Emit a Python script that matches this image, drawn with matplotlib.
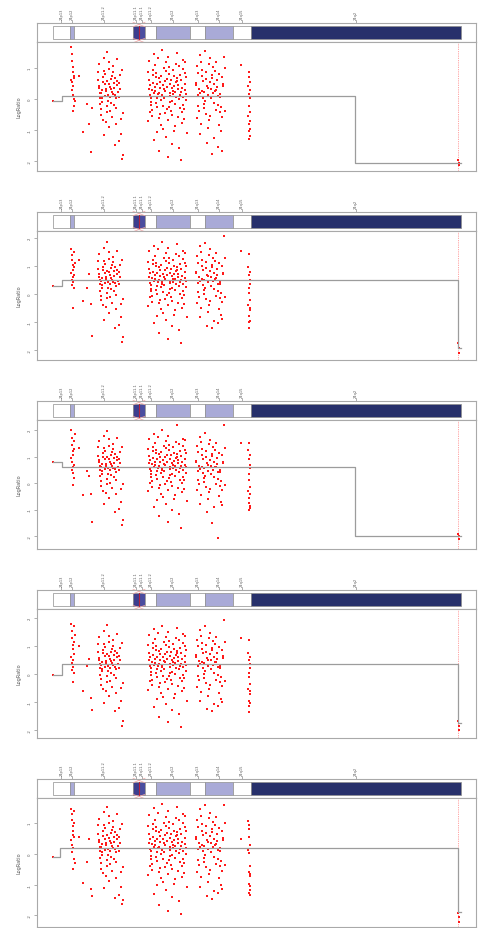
import matplotlib
matplotlib.use("Agg")
import matplotlib.pyplot as plt
from matplotlib.patches import Rectangle

# ---------------------------------------------------------------- chromosome
band_edges = [0.0, 1.7, 2.1, 8.0, 8.55, 9.2, 10.3, 13.7, 15.2, 18.0, 19.8, 40.8]
band_names = ["24p13", "24p12", "24p11.2", "24p11.1", "24q11.1", "24q11.2",
              "24q12", "24q13", "24q14", "24q15", "24q2"]
band_colors = ["white", "#a9aad7", "white", "#3c3e8e", "#4a4d9f", "white",
               "#a9aad7", "white", "#a9aad7", "white", "#27306b"]
centromere = 8.55

# ---------------------------------------------------------------- probe positions (Mb)
x_first = [0.0]
x_a = [1.79, 1.83, 1.86, 1.88, 1.91, 1.93, 1.95, 1.97, 1.99, 2.01, 2.03, 2.05,
       2.07, 2.09, 2.12, 2.15]
x_gap1 = [2.6, 3.0, 3.4, 3.6, 3.75, 3.85]
x_b = [4.60, 4.73, 4.50, 4.66, 4.79, 4.57, 4.70, 4.53, 4.76, 4.63,
       5.09, 4.90, 4.99, 4.83, 5.03, 5.12, 4.93, 5.06, 4.96, 4.86,
       5.18, 5.35, 5.44, 5.28, 5.15, 5.38, 5.22, 5.41, 5.31, 5.25,
       5.64, 5.48, 5.74, 5.58, 5.71, 5.51, 5.77, 5.61, 5.55, 5.68,
       6.09, 5.93, 5.83, 6.03, 5.87, 5.96, 6.06, 5.80, 6.00, 5.90,
       6.20, 6.39, 6.33, 6.16, 6.26, 6.42, 6.13, 6.29, 6.23, 6.36,
       6.80, 6.65, 6.95, 6.50, 6.90, 6.60, 6.75, 6.85, 6.55, 6.70,
       6.98, 6.62]
x_c = [9.60, 9.73, 9.50, 9.66, 9.79, 9.57, 9.70, 9.53, 9.76, 9.63,
       10.09, 9.90, 9.99, 9.83, 10.03, 10.12, 9.93, 10.06, 9.96, 9.86,
       10.18, 10.35, 10.44, 10.28, 10.15, 10.38, 10.22, 10.41, 10.31, 10.25,
       10.64, 10.48, 10.74, 10.58, 10.71, 10.51, 10.77, 10.61, 10.55, 10.68,
       11.09, 10.93, 10.83, 11.03, 10.87, 10.96, 11.06, 10.80, 11.00, 10.90,
       11.20, 11.39, 11.33, 11.16, 11.26, 11.42, 11.13, 11.29, 11.23, 11.36,
       11.65, 11.55, 11.74, 11.45, 11.71, 11.52, 11.61, 11.68, 11.48, 11.58,
       11.78, 11.94, 11.85, 12.04, 11.88, 11.98, 11.91, 12.07, 12.01, 11.81,
       12.33, 12.13, 12.23, 12.30, 12.39, 12.20, 12.36, 12.17, 12.10, 12.26,
       12.56, 12.72, 12.53, 12.50, 12.59, 12.69, 12.46, 12.63, 12.43, 12.66,
       12.85, 12.95, 12.75, 13.04, 12.78, 12.98, 12.88, 13.01, 12.82, 12.91,
       13.34, 13.08, 13.31, 13.21, 13.28, 13.15, 13.37, 13.18, 13.24, 13.11]
x_d = [14.30, 14.50, 14.38, 14.62, 14.42, 14.54, 14.46, 14.66, 14.58, 14.34,
       14.98, 14.74, 14.86, 14.94, 15.06, 14.82, 15.02, 14.78, 14.70, 14.90,
       15.26, 15.46, 15.22, 15.18, 15.30, 15.42, 15.14, 15.34, 15.10, 15.38,
       15.62, 15.74, 15.50, 15.86, 15.54, 15.78, 15.66, 15.82, 15.58, 15.70,
       16.22, 15.90, 16.18, 16.06, 16.14, 15.98, 16.26, 16.02, 16.10, 15.94,
       16.42, 16.58, 16.30, 16.50, 16.66, 16.38, 16.54, 16.34, 16.62, 16.46,
       17.02, 16.78, 16.90, 16.70, 16.94, 17.06, 16.82, 16.98, 16.86, 16.74,
       17.15, 17.20]
x_gap2 = [18.8]
x_e = [19.52, 19.54, 19.55, 19.57, 19.58, 19.6, 19.61, 19.62, 19.63, 19.65,
       19.66, 19.67, 19.69, 19.7, 19.72, 19.74]
x_end = [40.5, 40.56, 40.62]
probe_groups = [x_first, x_a, x_gap1, x_b, x_c, x_d, x_gap2, x_e, x_end]

# ---------------------------------------------------------------- log ratios, sample 1
ratio_1 = [
    [-0.06],
    [1.68, 0.62, 1.45, 0.3, 1.22, 0.55, 1.03, -0.39, 0.88, 0.41, 0.12, 0.74,
     0.0, -0.21, 0.68, -0.07],
    [0.74, -1.06, -0.16, -0.81, -1.71, -0.29],
    [0.42, -0.15, 0.88, 0.21, -0.52, 1.12, 0.05, 0.63, -0.31, 0.37,
     1.34, -0.08, 0.55, 0.19, -0.66, 0.92, 0.28, -1.15, 0.71, 0.02,
     0.47, -0.42, 1.52, 0.33, 0.11, -0.23, 0.81, 0.58, -0.74, 0.26,
     0.97, -0.05, 0.39, 1.21, -0.37, 0.14, 0.66, -0.91, 0.49, 0.08,
     -0.19, 0.75, 0.31, 1.05, -0.58, 0.17, 0.53, -0.12, 0.86, 0.24,
     -1.47, 0.44, 0.03, 0.69, -0.28, 1.28, 0.36, -0.81, 0.12, 0.59,
     -1.12, 0.78, -0.45, 0.22, -1.93, 0.51, -0.63, 0.95, -1.36, 0.34,
     -1.79, 0.07],
    [0.33, -0.41, 0.87, 0.12, -0.18, 1.24, 0.46, -0.72, 0.05, 0.61,
     -1.32, 0.29, 0.78, -0.09, 0.52, 1.45, -0.35, 0.18, 0.94, -0.56,
     0.38, 0.02, -1.05, 0.71, 0.25, -0.27, 1.09, 0.47, -0.13, 0.83,
     -0.62, 0.15, 0.56, -1.68, 0.36, 1.31, -0.04, 0.68, 0.21, -0.49,
     0.99, 0.09, -0.83, 0.44, 1.58, -0.21, 0.31, 0.74, -0.96, 0.13,
     0.57, -0.33, 1.18, 0.26, -1.21, 0.65, 0.04, 0.89, -0.45, 0.39,
     -0.11, 1.02, 0.19, -0.69, 0.48, -1.88, 0.81, 0.11, 1.36, -0.24,
     0.62, -0.52, 0.35, 0.93, -0.07, 0.27, -1.44, 0.73, 0.16, -0.38,
     1.14, 0.42, -0.86, 0.07, 0.58, -0.15, 1.49, 0.24, -1.02, 0.54,
     0.01, 0.79, -0.59, 0.32, 1.07, -0.29, 0.45, -1.57, 0.67, 0.14,
     -0.77, 0.96, 0.22, -0.19, 0.61, 1.26, -0.42, 0.08, -1.96, 0.37,
     0.71, -0.64, 0.17, 1.19, -0.03, 0.49, -1.11, 0.84, 0.28, -0.31],
    [0.52, -0.22, 1.07, 0.31, -0.61, 0.84, 0.12, 1.42, -0.38, 0.46,
     0.05, -1.12, 0.73, 0.27, -0.15, 1.21, 0.58, -0.79, 0.19, 0.95,
     -0.47, 0.36, 1.55, -0.06, 0.64, -1.41, 0.23, 0.88, -0.29, 0.41,
     1.13, -0.54, 0.14, 0.77, -0.93, 0.33, 1.31, 0.02, -0.68, 0.55,
     0.26, -1.78, 0.91, -0.12, 0.47, 1.02, -0.35, 0.18, -1.24, 0.69,
     0.38, -0.83, 1.18, 0.09, -0.43, 0.61, -1.55, 0.29, 0.82, -0.18,
     0.48, -1.03, 0.71, 0.15, -0.58, 1.37, -0.25, 0.43, -1.66, 0.07,
     0.99, -0.39],
    [1.1],
    [0.42, -0.55, 0.87, -1.03, 0.16, -0.81, -0.23, 0.71, -1.29, 0.03, -0.42,
     -0.95, 0.55, -1.19, 0.28, -0.71],
    [-1.98, -2.06, -2.14],
]

# ---------------------------------------------------------------- log ratios, sample 2
ratio_2 = [
    [0.29],
    [1.61, 0.75, 1.39, 0.32, 1.21, 0.5, 1.04, -0.5, 0.86, 0.61, 0.43, 1.5,
     0.2, 0.95, 0.68, 1.12],
    [1.21, -0.25, 0.2, 0.71, -0.36, -1.5],
    [0.71, 0.12, 1.18, 0.49, -0.23, 1.42, 0.35, 0.88, -0.06, 0.62,
     1.63, 0.21, 0.84, 0.46, -0.41, 1.19, 0.57, -0.92, 0.98, 0.31,
     0.76, -0.15, 1.87, 0.59, 0.38, 0.04, 1.08, 0.83, -0.48, 0.52,
     1.26, 0.22, 0.66, 1.5, -0.11, 0.41, 0.93, -0.67, 0.77, 0.35,
     0.09, 1.02, 0.58, 1.33, -0.32, 0.44, 0.81, 0.16, 1.14, 0.51,
     -1.21, 0.72, 0.29, 0.96, -0.02, 1.55, 0.63, -0.55, 0.39, 0.86,
     -0.84, 1.05, -0.18, 0.48, -1.73, 0.78, -0.37, 1.22, -1.1, 0.61,
     -1.55, 0.34],
    [0.61, -0.12, 1.15, 0.4, 0.09, 1.52, 0.74, -0.43, 0.33, 0.89,
     -1.04, 0.57, 1.06, 0.19, 0.8, 1.72, -0.07, 0.46, 1.22, -0.28,
     0.66, 0.3, -0.77, 0.99, 0.53, 0.01, 1.37, 0.75, 0.15, 1.11,
     -0.34, 0.43, 0.84, -1.4, 0.64, 1.59, 0.24, 0.96, 0.49, -0.21,
     1.27, 0.37, -0.55, 0.72, 1.86, 0.07, 0.59, 1.02, -0.68, 0.41,
     0.85, -0.05, 1.46, 0.54, -0.93, 0.93, 0.32, 1.17, -0.17, 0.67,
     0.17, 1.3, 0.47, -0.41, 0.76, -1.6, 1.09, 0.39, 1.64, 0.04,
     0.9, -0.24, 0.63, 1.21, 0.21, 0.55, -1.16, 1.01, 0.44, -0.1,
     1.42, 0.7, -0.58, 0.35, 0.86, 0.13, 1.77, 0.52, -0.74, 0.82,
     0.29, 1.07, -0.31, 0.6, 1.35, -0.01, 0.73, -1.29, 0.95, 0.42,
     -0.49, 1.24, 0.5, 0.09, 0.89, 1.54, -0.14, 0.36, -1.75, 0.65,
     0.99, -0.36, 0.45, 1.47, 0.25, 0.77, -0.83, 1.12, 0.56, -0.03],
    [0.8, 0.06, 1.35, 0.59, -0.33, 1.12, 0.4, 1.7, -0.1, 0.74,
     0.33, -0.84, 1.01, 0.55, 0.13, 1.49, 0.86, -0.51, 0.47, 1.23,
     -0.19, 0.64, 1.83, 0.22, 0.92, -1.13, 0.51, 1.16, -0.01, 0.69,
     1.41, -0.26, 0.42, 1.05, -0.65, 0.61, 1.59, 0.3, -0.4, 0.83,
     0.54, -1.21, 1.19, 0.16, 0.75, 1.3, -0.07, 0.46, -0.96, 0.97,
     0.66, -0.55, 1.46, 0.37, -0.15, 0.89, -1.02, 0.57, 1.1, 0.1,
     0.76, -0.75, 0.99, 0.43, -0.3, 2.07, 0.03, 0.71, -0.88, 0.35,
     1.27, -0.11],
    [1.54],
    [0.95, -0.38, 1.43, -0.8, 0.21, -1.0, 0.05, 0.66, -1.21, 0.37, -0.2,
     -0.58, 0.8, -0.95, 0.49, -0.5],
    [-1.75, -1.92, -2.1],
]

# ---------------------------------------------------------------- log ratios, sample 3
ratio_3 = [
    [0.79],
    [2.0, 0.95, 1.7, 0.5, 1.45, 0.8, 1.2, -0.08, 1.05, 0.62, 0.38, 1.6,
     0.2, 1.3, 0.7, 1.85],
    [1.32, -0.45, 0.45, 0.26, -0.42, -1.47],
    [0.88, 0.25, 1.36, 0.63, -0.11, 1.58, 0.49, 1.02, 0.07, 0.78,
     1.79, 0.34, 0.99, 0.6, -0.29, 1.34, 0.71, -0.79, 1.13, 0.45,
     0.9, -0.02, 1.96, 0.73, 0.52, 0.17, 1.22, 0.97, -0.36, 0.66,
     1.41, 0.36, 0.8, 1.65, 0.02, 0.55, 1.07, -0.55, 0.91, 0.48,
     0.23, 1.17, 0.72, 1.47, -0.19, 0.58, 0.95, 0.3, 1.29, 0.65,
     -1.08, 0.86, 0.43, 1.1, 0.11, 1.7, 0.77, -0.42, 0.53, 1.0,
     -0.7, 1.19, -0.05, 0.62, -1.58, 0.92, -0.24, 1.36, -0.97, 0.75,
     -1.4, 0.48],
    [0.75, 0.02, 1.29, 0.54, 0.23, 1.66, 0.88, -0.29, 0.47, 1.03,
     -0.9, 0.71, 1.2, 0.33, 0.94, 1.86, 0.07, 0.6, 1.36, -0.14,
     0.8, 0.44, -0.63, 1.13, 0.67, 0.15, 1.51, 0.89, 0.29, 1.25,
     -0.2, 0.57, 0.98, -1.26, 0.78, 1.73, 0.38, 1.1, 0.63, -0.07,
     1.41, 0.51, -0.41, 0.86, 2.0, 0.21, 0.73, 1.16, -0.54, 0.55,
     0.99, 0.09, 1.6, 0.68, -0.79, 1.07, 0.46, 1.31, -0.03, 0.81,
     0.31, 1.44, 0.61, -0.27, 0.9, -1.46, 1.23, 0.53, 1.78, 0.18,
     1.04, -0.1, 0.77, 1.35, 0.35, 0.69, -1.02, 1.15, 0.58, 0.04,
     1.56, 0.84, -0.44, 0.49, 1.0, 0.27, 2.19, 0.66, -0.6, 0.96,
     0.43, 1.21, -0.17, 0.74, 1.49, 0.13, 0.87, -1.15, 1.09, 0.56,
     -0.35, 1.38, 0.64, 0.23, 1.03, 1.68, 0.0, 0.5, -1.7, 0.79,
     1.13, -0.22, 0.59, 1.61, 0.39, 0.91, -0.69, 1.26, 0.7, 0.11],
    [0.85, 0.11, 1.4, 0.64, -0.28, 1.17, 0.45, 1.75, -0.05, 0.79,
     0.38, -0.79, 1.06, 0.6, 0.18, 1.54, 0.91, -0.46, 0.52, 1.28,
     -0.14, 0.69, 1.88, 0.27, 0.97, -1.08, 0.56, 1.21, 0.04, 0.74,
     1.46, -0.21, 0.47, 1.1, -0.6, 0.66, 1.64, 0.35, -0.35, 0.88,
     0.59, -1.5, 1.24, 0.21, 0.8, 1.35, -0.02, 0.51, -0.91, 1.02,
     0.71, -0.5, 1.51, 0.42, -0.1, 0.94, -2.07, 0.62, 1.15, 0.15,
     0.81, -0.7, 1.04, 0.48, -0.25, 2.19, 0.08, 0.76, -0.83, 0.4,
     1.32, -0.06],
    [1.5],
    [1.25, -0.3, 1.5, -0.75, 0.35, -1.0, 0.1, 0.9, -0.55, 0.55, -0.15,
     -0.85, 1.05, -0.95, 0.7, -0.4],
    [-1.92, -2.0, -2.1],
]

# ---------------------------------------------------------------- log ratios, sample 4
ratio_4 = [
    [-0.04],
    [1.8, 0.6, 1.55, 0.15, 1.3, 0.4, 1.05, -0.3, 0.9, 0.5, 0.25, 1.7,
     0.05, 1.15, 0.7, 1.4],
    [1.0, -0.6, 0.3, 0.55, -0.85, -1.3],
    [0.58, -0.03, 1.07, 0.36, -0.38, 1.31, 0.22, 0.79, -0.17, 0.49,
     1.52, 0.1, 0.73, 0.33, -0.54, 1.06, 0.44, -1.03, 0.85, 0.18,
     0.63, -0.28, 1.74, 0.46, 0.25, -0.09, 0.95, 0.7, -0.61, 0.39,
     1.13, 0.09, 0.53, 1.37, -0.24, 0.28, 0.8, -0.78, 0.64, 0.22,
     -0.04, 0.89, 0.45, 1.2, -0.45, 0.31, 0.68, 0.03, 1.01, 0.38,
     -1.34, 0.59, 0.16, 0.83, -0.15, 1.42, 0.5, -0.68, 0.26, 0.73,
     -0.97, 0.92, -0.31, 0.35, -1.86, 0.65, -0.5, 1.09, -1.23, 0.48,
     -1.68, 0.21],
    [0.48, -0.25, 1.02, 0.27, -0.04, 1.39, 0.61, -0.56, 0.2, 0.76,
     -1.17, 0.44, 0.93, 0.06, 0.67, 1.59, -0.2, 0.33, 1.09, -0.41,
     0.53, 0.17, -0.9, 0.86, 0.4, -0.12, 1.24, 0.62, 0.02, 0.98,
     -0.47, 0.3, 0.71, -1.53, 0.51, 1.46, 0.11, 0.83, 0.36, -0.34,
     1.14, 0.24, -0.68, 0.59, 1.73, -0.06, 0.46, 0.89, -0.81, 0.28,
     0.72, -0.18, 1.33, 0.41, -1.06, 0.8, 0.19, 1.04, -0.3, 0.54,
     0.04, 1.17, 0.34, -0.54, 0.63, -1.73, 0.96, 0.26, 1.51, -0.09,
     0.77, -0.37, 0.5, 1.08, 0.08, 0.42, -1.29, 0.88, 0.31, -0.23,
     1.29, 0.57, -0.71, 0.22, 0.73, 0.0, 1.64, 0.39, -0.87, 0.69,
     0.16, 0.94, -0.44, 0.47, 1.22, -0.14, 0.6, -1.42, 0.82, 0.29,
     -0.62, 1.11, 0.37, -0.04, 0.76, 1.41, -0.27, 0.23, -1.88, 0.52,
     0.86, -0.49, 0.32, 1.34, 0.12, 0.64, -0.96, 0.99, 0.43, -0.16],
    [0.67, -0.07, 1.22, 0.46, -0.46, 0.99, 0.27, 1.57, -0.23, 0.61,
     0.2, -0.97, 0.88, 0.42, 0.0, 1.36, 0.73, -0.64, 0.34, 1.1,
     -0.32, 0.51, 1.7, 0.09, 0.79, -1.26, 0.38, 1.03, -0.14, 0.56,
     1.28, -0.39, 0.29, 0.92, -0.78, 0.48, 1.46, 0.17, -0.53, 0.7,
     0.41, -1.34, 1.06, 0.03, 0.62, 1.17, -0.2, 0.33, -1.09, 0.84,
     0.53, -0.68, 1.33, 0.24, -0.28, 0.76, -1.15, 0.44, 0.97, -0.03,
     0.63, -0.88, 0.86, 0.3, -0.43, 1.94, -0.1, 0.58, -1.01, 0.22,
     1.14, -0.24],
    [1.3],
    [0.75, -0.55, 1.2, -0.95, 0.05, -1.15, -0.1, 0.5, -1.35, 0.2, -0.35,
     -0.7, 0.6, -1.05, 0.35, -0.6],
    [-1.7, -1.85, -2.0],
]

# ---------------------------------------------------------------- log ratios, sample 5
ratio_5 = [
    [-0.1],
    [1.47, 0.45, 1.3, 0.05, 1.1, 0.3, 0.9, -0.49, 0.75, 0.2, 0.6, 1.4,
     -0.15, 1.0, 0.55, -0.3],
    [0.55, -0.94, -0.26, 0.49, -1.14, -1.37],
    [0.44, -0.14, 0.93, 0.23, -0.5, 1.15, 0.08, 0.66, -0.29, 0.39,
     1.37, -0.05, 0.58, 0.21, -0.63, 0.95, 0.31, -1.12, 0.74, 0.05,
     0.5, -0.39, 1.53, 0.36, 0.14, -0.2, 0.84, 0.61, -0.71, 0.29,
     1.0, -0.02, 0.42, 1.24, -0.34, 0.17, 0.69, -0.88, 0.52, 0.11,
     -0.16, 0.78, 0.34, 1.08, -0.55, 0.2, 0.56, -0.09, 0.89, 0.27,
     -1.44, 0.47, 0.06, 0.72, -0.25, 1.31, 0.39, -0.78, 0.15, 0.62,
     -1.09, 0.81, -0.42, 0.25, -1.63, 0.54, -0.6, 0.98, -1.33, 0.37,
     -1.5, 0.1],
    [0.36, -0.38, 0.9, 0.15, -0.15, 1.27, 0.49, -0.69, 0.08, 0.64,
     -1.29, 0.32, 0.81, -0.06, 0.55, 1.48, -0.32, 0.21, 0.97, -0.53,
     0.41, 0.05, -1.02, 0.74, 0.28, -0.24, 1.12, 0.5, -0.1, 0.86,
     -0.59, 0.18, 0.59, -1.65, 0.39, 1.34, -0.01, 0.71, 0.24, -0.46,
     1.02, 0.12, -0.8, 0.47, 1.61, -0.18, 0.34, 0.77, -0.93, 0.16,
     0.6, -0.3, 1.21, 0.29, -1.18, 0.68, 0.07, 0.92, -0.42, 0.42,
     -0.08, 1.05, 0.22, -0.66, 0.51, -1.85, 0.84, 0.14, 1.39, -0.21,
     0.65, -0.49, 0.38, 0.96, -0.04, 0.3, -1.41, 0.76, 0.19, -0.35,
     1.17, 0.45, -0.83, 0.1, 0.61, -0.12, 1.52, 0.27, -0.99, 0.57,
     0.04, 0.82, -0.56, 0.35, 1.1, -0.26, 0.48, -1.54, 0.7, 0.17,
     -0.74, 0.99, 0.25, -0.16, 0.64, 1.29, -0.39, 0.11, -1.95, 0.4,
     0.74, -0.61, 0.2, 1.22, 0.0, 0.52, -1.08, 0.87, 0.31, -0.28],
    [0.55, -0.19, 1.1, 0.34, -0.58, 0.87, 0.15, 1.45, -0.35, 0.49,
     0.08, -1.09, 0.76, 0.3, -0.12, 1.24, 0.61, -0.76, 0.22, 0.98,
     -0.44, 0.39, 1.58, -0.03, 0.67, -1.38, 0.26, 0.91, -0.26, 0.44,
     1.16, -0.51, 0.17, 0.8, -0.9, 0.36, 1.34, 0.05, -0.65, 0.58,
     0.29, -1.46, 0.94, -0.09, 0.5, 1.05, -0.32, 0.21, -1.21, 0.72,
     0.41, -0.8, 1.21, 0.12, -0.4, 0.64, -1.27, 0.32, 0.85, -0.15,
     0.51, -1.0, 0.74, 0.18, -0.55, 1.6, -0.22, 0.46, -1.13, 0.1,
     1.02, -0.36],
    [0.49],
    [1.07, 0.13, 0.94, -0.59, 0.81, -0.98, 0.55, -1.27, 0.03, -0.72, -0.39,
     -1.17, 0.3, -0.65, -1.04, -1.34],
    [-1.92, -2.05, -2.21],
]

# ---------------------------------------------------------------- segmentation (start, end, level)
segments_1 = [(0.0, 0.9, -0.06), (0.9, 30.2, 0.10), (30.2, 40.8, -2.06)]
segments_2 = [(0.0, 0.9, 0.29), (0.9, 40.5, 0.50), (40.5, 40.8, -1.93)]
segments_3 = [(0.0, 0.9, 0.79), (0.9, 30.2, 0.60), (30.2, 40.8, -2.00)]
segments_4 = [(0.0, 0.9, -0.04), (0.9, 40.5, 0.36), (40.5, 40.8, -1.75)]
segments_5 = [(0.0, 0.7, -0.10), (0.7, 40.5, 0.20), (40.5, 40.8, -1.90)]

y_ranges = [(-2.32, 1.84), (-2.36, 2.25), (-2.49, 2.38), (-2.29, 2.32), (-2.38, 1.82)]
y_ticks = [[-2, -1, 0, 1], [-2, -1, 0, 1, 2], [-2, -1, 0, 1, 2],
           [-2, -1, 0, 1, 2], [-2, -1, 0, 1]]
marker_x = 40.5

panels = [(ratio_1, segments_1), (ratio_2, segments_2), (ratio_3, segments_3),
          (ratio_4, segments_4), (ratio_5, segments_5)]

# ---------------------------------------------------------------- drawing
W, H = 489, 929
fig = plt.figure(figsize=(W / 100, H / 100), dpi=100)
XLIM = (-1.6, 42.3)
FRAME = "#a9a9a9"
TXT = "#5a5a5a"


def px_rect(x0, y0, x1, y1):
    return [x0 / W, 1 - y1 / H, (x1 - x0) / W, (y1 - y0) / H]


for k, (ratios, segs) in enumerate(panels):
    off = 189 * k

    # ideogram strip
    ai = fig.add_axes(px_rect(37, 24 + off, 476, 43 + off))
    ai.set_xlim(*XLIM)
    ai.set_ylim(19, 0)
    ai.set_xticks([])
    ai.set_yticks([])
    for s in ai.spines.values():
        s.set_color(FRAME)
        s.set_linewidth(0.8)
    for i, col in enumerate(band_colors):
        a, b = band_edges[i], band_edges[i + 1]
        ai.add_patch(Rectangle((a, 3), b - a, 13, facecolor=col,
                               edgecolor="#8e8e8e", linewidth=0.5))
        mid = (a + b) / 2
        ai.plot([mid, mid], [0, -2.6], color="#8e8e8e", lw=0.5, clip_on=False)
        ai.text(mid, -3.6, band_names[i], rotation=90, ha="center", va="bottom",
                fontsize=2.6, color=TXT, clip_on=False)
    ai.plot([centromere, centromere], [3, 16], color="#b4213c", lw=0.8)
    for yc in (1.5, 17.5):
        ai.plot([8.0, 9.2], [yc - 2.2, yc + 2.2], color="#f2a5a5", lw=0.5, clip_on=False)
        ai.plot([8.0, 9.2], [yc + 2.2, yc - 2.2], color="#f2a5a5", lw=0.5, clip_on=False)

    # log-ratio panel
    ap = fig.add_axes(px_rect(37, 43 + off, 476, 172 + off))
    ap.set_xlim(*XLIM)
    ap.set_ylim(*y_ranges[k])
    ap.set_xticks([])
    ap.set_yticks(y_ticks[k])
    ap.set_yticklabels([str(t) for t in y_ticks[k]], rotation=90, va="center",
                       fontsize=2.8, color=TXT)
    ap.tick_params(axis="y", length=2.5, width=0.5, color="#8e8e8e", pad=1.5)
    for s in ap.spines.values():
        s.set_color(FRAME)
        s.set_linewidth(0.8)
    ap.set_ylabel("LogRatio", fontsize=3.6, color=TXT)
    ap.yaxis.set_label_coords(-0.036, 0.5)

    for xs, ys in zip(probe_groups, ratios):
        n = min(len(xs), len(ys))
        ap.scatter(xs[:n], ys[:n], s=1.7, marker="s", c="#ff1a1a",
                   linewidths=0, zorder=2)

    sx, sy = [], []
    for a, b, v in segs:
        sx += [a, b]
        sy += [v, v]
    ap.plot(sx, sy, color="#9c9c9c", lw=0.9, zorder=3)
    ap.axvline(marker_x, color="#ff9a9a", lw=0.6, ls=(0, (1.5, 1.2)), zorder=1)

fig.savefig("out.png", dpi=100)
